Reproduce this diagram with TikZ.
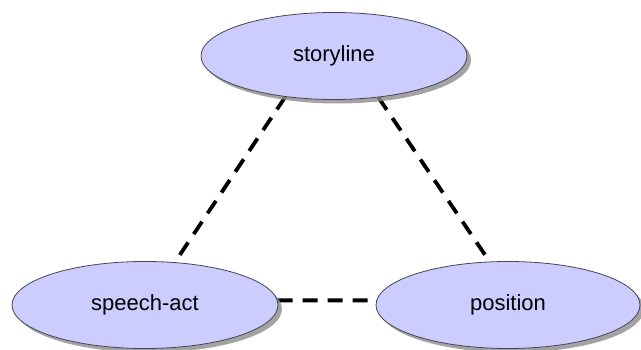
\documentclass[tikz,border=0pt]{standalone}
\usepackage{fontspec}
\setmainfont{Liberation Sans}
\usetikzlibrary{shapes.geometric,shadows,backgrounds}
\definecolor{lav}{RGB}{204,204,255}
\definecolor{rim}{RGB}{70,70,80}
\begin{document}
\begin{tikzpicture}[x=1pt,y=-1pt,
  concept/.style={ellipse, draw=rim, line width=0.8pt, fill=lav, inner sep=0pt,
    minimum width=266pt, minimum height=87pt, font=\fontsize{22}{25}\selectfont,
    drop shadow={shadow xshift=4pt, shadow yshift=-4pt, fill=black!45, opacity=0.8}},
  link/.style={line width=3.8pt, dash pattern=on 15pt off 10pt, black}]
\useasboundingbox (0,0) rectangle (641,350);
\node[concept] (story) at (334,56) {storyline};
\node[concept] (speech) at (145,305) {speech-act};
\node[concept, minimum width=264pt] (pos) at (508,305) {position};
\begin{scope}[on background layer]
\draw[link] (story.220) -- (speech.55);
\draw[link] (story.317) -- (pos.113);
\draw[link] (speech.2) -- (pos.178);
\end{scope}
\end{tikzpicture}
\end{document}
